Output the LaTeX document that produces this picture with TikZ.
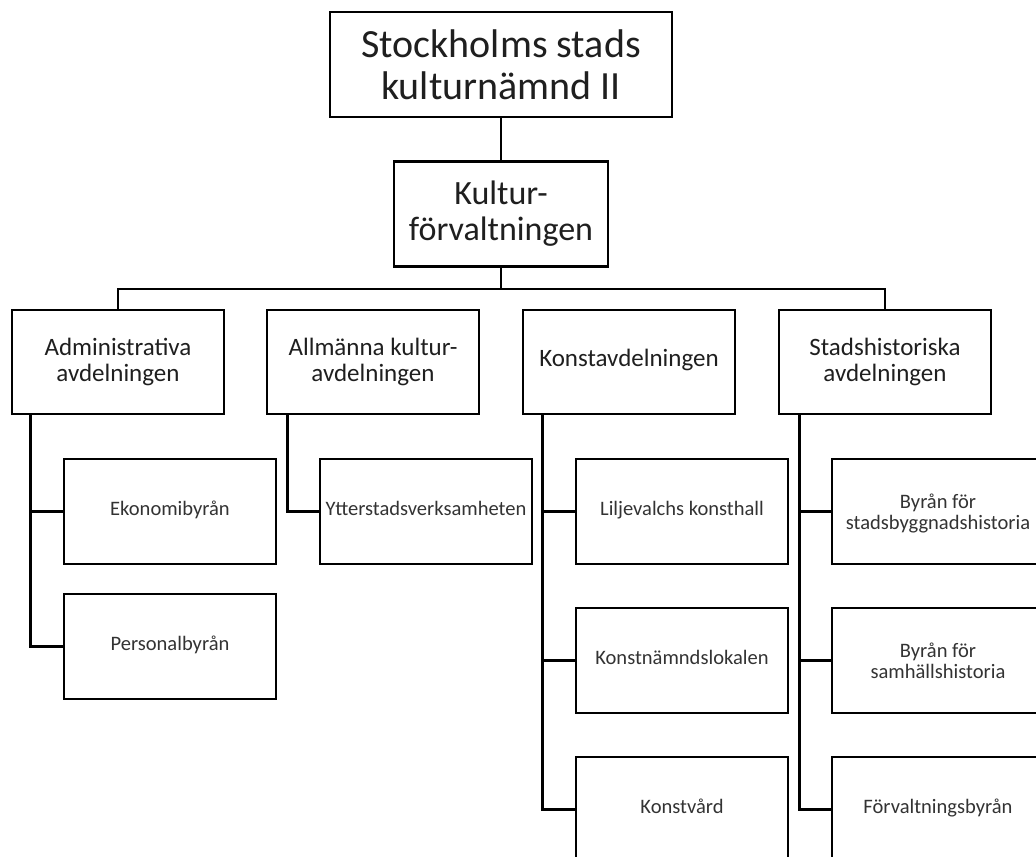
\documentclass[tikz,border=0pt]{standalone}
\usepackage{fontspec}
\setmainfont{Carlito}
\begin{document}
\begin{tikzpicture}[x=0.75pt,y=-0.75pt,
  box/.style={draw=black,line width=1.9pt,fill=white,align=center,inner sep=0pt,text=black!88},
  oneline/.style={text height=0.82em,text depth=0.18em},
  twoline/.style={text depth=-3pt},
  topbox/.style={box,minimum width=256.5pt,minimum height=78.75pt,font=\fontsize{30pt}{31.5pt}\selectfont},
  kfbox/.style={box,minimum width=160.5pt,minimum height=78.75pt,font=\fontsize{25.5pt}{27pt}\selectfont},
  depbox/.style={box,minimum width=159pt,minimum height=78pt,font=\fontsize{18.75pt}{19.7pt}\selectfont},
  unitbox/.style={box,minimum width=159pt,minimum height=78.75pt,text=black!80,font=\fontsize{15.4pt}{16pt}\selectfont},
  link/.style={draw=black,line width=1.9pt}]
\useasboundingbox (0,0) rectangle (1036,857);
\clip (0,0) rectangle (1036,857);
\fill[white] (0,0) rectangle (1036,857);

% top levels
\node[topbox] (top) at (501,64.5) {Stockholms stads\\kulturnämnd II};
\node[kfbox] (kf) at (501,214) {Kultur-\\förvaltningen};

% departments
\node[depbox] (adm) at (118,362) {Administrativa\\avdelningen};
\node[depbox] (all) at (373,362) {Allmänna kultur-\\avdelningen};
\node[depbox,oneline] (kon) at (629,362) {Konstavdelningen};
\node[depbox] (sta) at (885,362) {Stadshistoriska\\avdelningen};

% units
\node[unitbox,oneline] (eko) at (170,511.5) {Ekonomibyrån};
\node[unitbox,oneline] (per) at (170,646.5) {Personalbyrån};
\node[unitbox,oneline] (ytt) at (426,511.5) {Ytterstadsverksamheten};
\node[unitbox,oneline] (lil) at (682,511.5) {Liljevalchs konsthall};
\node[unitbox,oneline] (knl) at (682,660.5) {Konstnämndslokalen};
\node[unitbox,oneline] (kvd) at (682,809.5) {Konstvård};
\node[unitbox,twoline] (bst) at (938,511.5) {Byrån för\\stadsbyggnadshistoria};
\node[unitbox,twoline] (bsa) at (938,660.5) {Byrån för\\samhällshistoria};
\node[unitbox,oneline] (fob) at (938,809.5) {Förvaltningsbyrån};

% connectors
\coordinate (bus) at (501,289);
\draw[link] (top.south) -- (kf.north);
\draw[link] (kf.south) -- (bus);
\draw[link] (adm.north) |- (bus) -| (sta.north);

\draw[link] ([xshift=15pt]adm.south west) |- (eko.west);
\draw[link] ([xshift=15pt]adm.south west) |- (per.west);
\draw[link] ([xshift=16.5pt]all.south west) |- (ytt.west);
\draw[link] ([xshift=15.75pt]kon.south west) |- (lil.west);
\draw[link] ([xshift=15.75pt]kon.south west) |- (knl.west);
\draw[link] ([xshift=15.75pt]kon.south west) |- (kvd.west);
\draw[link] ([xshift=16.5pt]sta.south west) |- (bst.west);
\draw[link] ([xshift=16.5pt]sta.south west) |- (bsa.west);
\draw[link] ([xshift=16.5pt]sta.south west) |- (fob.west);
\end{tikzpicture}
\end{document}
